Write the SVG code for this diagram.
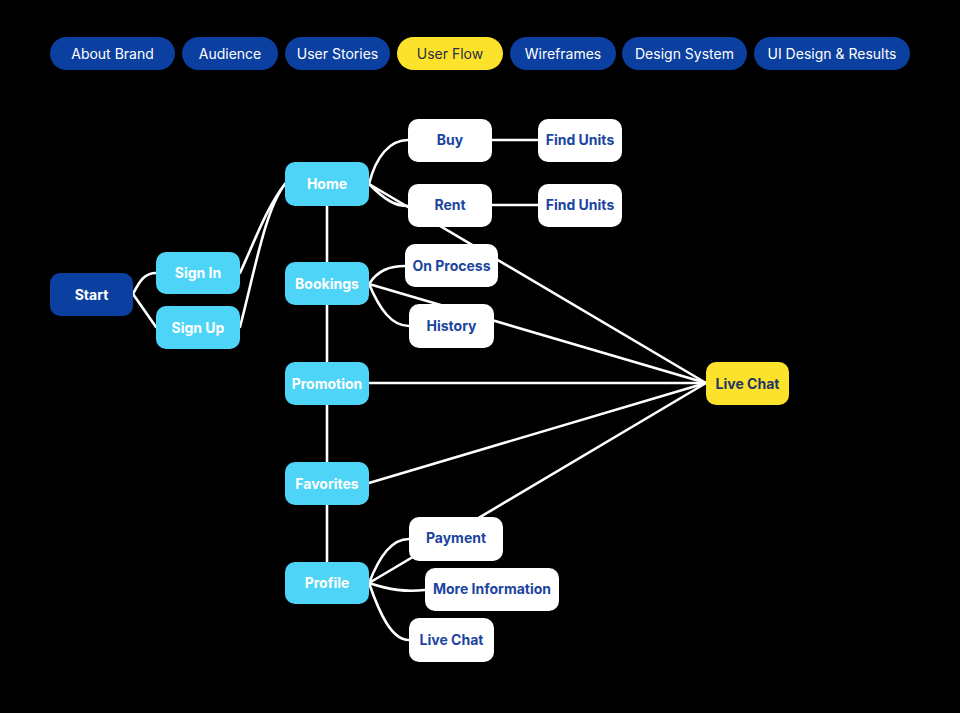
<svg xmlns="http://www.w3.org/2000/svg" width="960" height="713" viewBox="0 0 960 713">
<style>
.tab{fill:#0B3FA0}
.tabA{fill:#FCE22A}
.tt{font-family:Inter,"Noto Sans","Liberation Sans",sans-serif;font-size:14px;fill:#fff;text-anchor:middle}
.ttA{fill:#2a2f45}
.start{fill:#0B3FA0}
.lb{fill:#4DD4F7}
.wh{fill:#fff}
.ye{fill:#FCE22A}
.nt{font-family:Inter,"Noto Sans","Liberation Sans",sans-serif;font-size:14px;font-weight:700;text-anchor:middle}
.nw{fill:#fff}
.nb{fill:#1B44A0}
.ny{fill:#1E3566}
.c{fill:none;stroke:#fff;stroke-width:2.6;stroke-linecap:round}
</style>
<rect width="960" height="713" fill="#000"/>
<g id="tabs">
<g id="tab-about"><rect class="tab" x="50" y="37" width="125" height="33" rx="16.5"/><text class="tt" x="112.5" y="58.5">About Brand</text></g>
<g id="tab-audience"><rect class="tab" x="182" y="37" width="96" height="33" rx="16.5"/><text class="tt" x="230" y="58.5">Audience</text></g>
<g id="tab-stories"><rect class="tab" x="285" y="37" width="105" height="33" rx="16.5"/><text class="tt" x="337.5" y="58.5">User Stories</text></g>
<g id="tab-flow"><rect class="tabA" x="397" y="37" width="106" height="33" rx="16.5"/><text class="tt ttA" x="450" y="58.5">User Flow</text></g>
<g id="tab-wire"><rect class="tab" x="510" y="37" width="106" height="33" rx="16.5"/><text class="tt" x="563" y="58.5">Wireframes</text></g>
<g id="tab-ds"><rect class="tab" x="622" y="37" width="125" height="33" rx="16.5"/><text class="tt" x="684.5" y="58.5">Design System</text></g>
<g id="tab-ui"><rect class="tab" x="754" y="37" width="156" height="33" rx="16.5"/><text class="tt" x="832" y="58.5">UI Design &amp; Results</text></g>
</g>
<g id="connectors">
<path class="c" d="M133,294 C140,280 145,273 156,273"/>
<path class="c" d="M133,294 L156,327"/>
<path class="c" d="M240,273 C255,240 268,205 285,184"/>
<path class="c" d="M240,327 C255,270 265,210 285,184"/>
<path class="c" d="M327,206 L327,562"/>
<path class="c" d="M369,184 C376,156 390,140 408,140"/>
<path class="c" d="M369,184 C385,200 395,206 408,206"/>
<path class="c" d="M492,140 L538,140"/>
<path class="c" d="M492,205 L538,205"/>
<path class="c" d="M369,184 L706,383"/>
<path class="c" d="M369,284 C378,270 390,266 405,266"/>
<path class="c" d="M369,284 C380,310 392,326 409,326"/>
<path class="c" d="M369,284 L706,383"/>
<path class="c" d="M369,383 L706,383"/>
<path class="c" d="M369,483 L706,383"/>
<path class="c" d="M369,583 L706,383"/>
<path class="c" d="M369,583 C380,555 392,539 409,539"/>
<path class="c" d="M369,583 C390,590 405,592 425,590"/>
<path class="c" d="M369,583 C380,615 392,640 409,640"/>
</g>
<g id="start"><rect class="start" x="50" y="273" width="83" height="43" rx="10"/><text class="nt nw" x="91.5" y="299.5">Start</text></g>
<g id="signin"><rect class="lb" x="156" y="252" width="84" height="42" rx="10"/><text class="nt nw" x="198" y="278">Sign In</text></g>
<g id="signup"><rect class="lb" x="156" y="306" width="84" height="43" rx="10"/><text class="nt nw" x="198" y="332.5">Sign Up</text></g>
<g id="home"><rect class="lb" x="285" y="162" width="84" height="44" rx="10"/><text class="nt nw" x="327" y="189">Home</text></g>
<g id="bookings"><rect class="lb" x="285" y="262" width="84" height="43" rx="10"/><text class="nt nw" x="327" y="288.5">Bookings</text></g>
<g id="promotion"><rect class="lb" x="285" y="362" width="84" height="43" rx="10"/><text class="nt nw" x="327" y="388.5">Promotion</text></g>
<g id="favorites"><rect class="lb" x="285" y="462" width="84" height="43" rx="10"/><text class="nt nw" x="327" y="488.5">Favorites</text></g>
<g id="profile"><rect class="lb" x="285" y="562" width="84" height="42" rx="10"/><text class="nt nw" x="327" y="588">Profile</text></g>
<g id="buy"><rect class="wh" x="408" y="119" width="84" height="43" rx="10"/><text class="nt nb" x="450" y="145">Buy</text></g>
<g id="find1"><rect class="wh" x="538" y="119" width="84" height="43" rx="10"/><text class="nt nb" x="580" y="145">Find Units</text></g>
<g id="rent"><rect class="wh" x="408" y="184" width="84" height="43" rx="10"/><text class="nt nb" x="450" y="210">Rent</text></g>
<g id="find2"><rect class="wh" x="538" y="184" width="84" height="43" rx="10"/><text class="nt nb" x="580" y="210">Find Units</text></g>
<g id="onprocess"><rect class="wh" x="405" y="244" width="93" height="43" rx="10"/><text class="nt nb" x="451.5" y="270.5">On Process</text></g>
<g id="history"><rect class="wh" x="409" y="304" width="85" height="44" rx="10"/><text class="nt nb" x="451.5" y="331">History</text></g>
<g id="payment"><rect class="wh" x="409" y="517" width="94" height="44" rx="10"/><text class="nt nb" x="456" y="543">Payment</text></g>
<g id="moreinfo"><rect class="wh" x="425" y="568" width="134" height="43" rx="10"/><text class="nt nb" x="492" y="594">More Information</text></g>
<g id="livechat-profile"><rect class="wh" x="409" y="618" width="85" height="44" rx="10"/><text class="nt nb" x="451.5" y="644.5">Live Chat</text></g>
<g id="livechat"><rect class="ye" x="706" y="362" width="83" height="43" rx="10"/><text class="nt ny" x="747.5" y="388.5">Live Chat</text></g>
</svg>
